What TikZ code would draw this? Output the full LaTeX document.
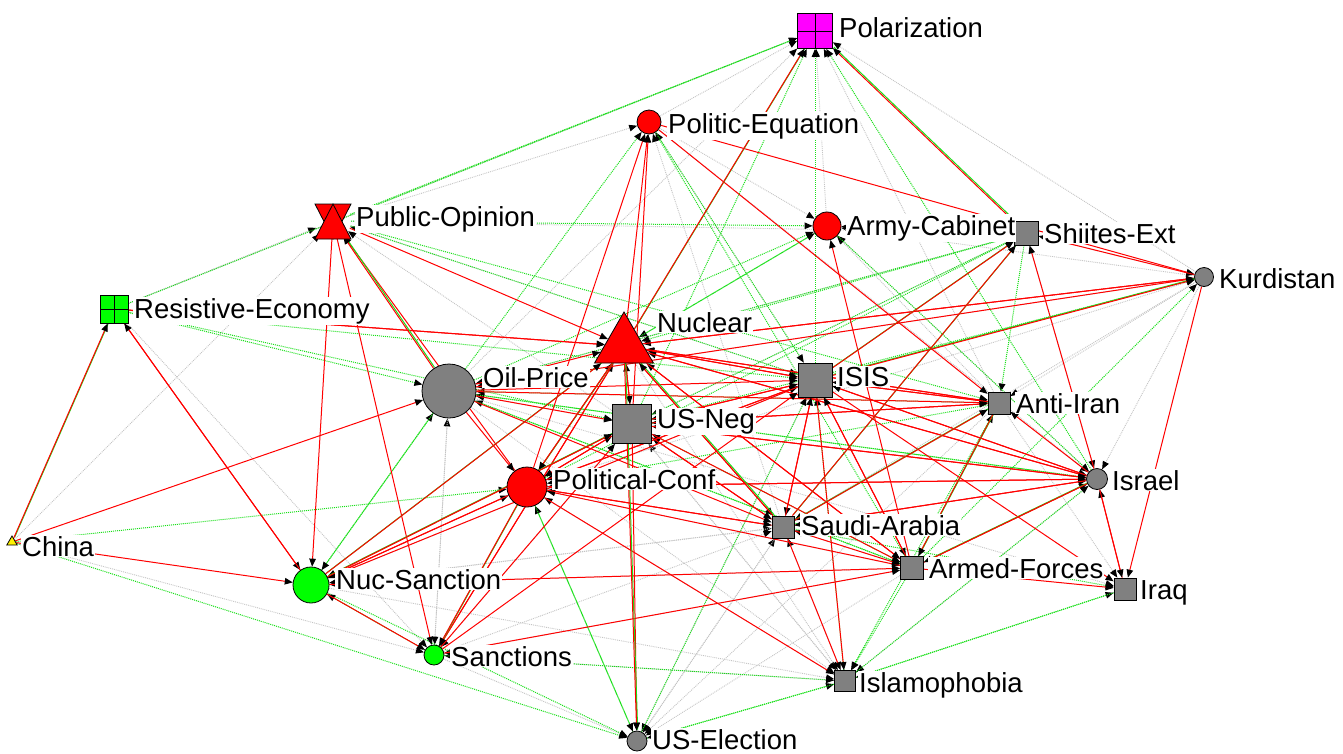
\documentclass[tikz,border=0pt]{standalone}
\usepackage{fontspec}
\setmainfont{Liberation Sans}
\usetikzlibrary{arrows.meta,shapes.geometric}
\pgfdeclarelayer{bg}
\pgfdeclarelayer{edges}
\pgfsetlayers{bg,edges,main}
\definecolor{egreen}{HTML}{19E019}
\definecolor{egray}{HTML}{C4C4C4}
\definecolor{ngray}{HTML}{808080}
\definecolor{ngreen}{HTML}{00FF00}
\definecolor{nmag}{HTML}{FF00FF}
\begin{document}
\begin{tikzpicture}[x=1pt,y=-1pt,
  tip/.style={-{Triangle[length=8pt,width=6.5pt,color=black]}},
  er/.style={tip, draw=red, line width=1pt},
  eg/.style={tip, draw=egreen, line width=1pt, densely dotted},
  ey/.style={tip, draw=egray, line width=0.9pt, densely dotted},
  erg/.style={tip, draw=red, line width=1pt,
    preaction={draw=egreen, line width=1pt, -, transform canvas={shift={(1pt,1pt)}}}},
  lab/.style={fill=white, inner sep=1pt, anchor=base west, font=\fontsize{27.5}{30}\selectfont},
  sq/.style={rectangle, draw=black, line width=0.8pt, fill=ngray, inner sep=0pt, minimum size=#1},
  ci/.style={circle, draw=black, line width=0.8pt, fill=ngray, inner sep=0pt, minimum size=#1},
  grid4/.style={rectangle, draw=black, line width=0.8pt, inner sep=0pt, minimum size=#1,
    path picture={\draw[line width=0.8pt] (path picture bounding box.north) -- (path picture bounding box.south)
      (path picture bounding box.west) -- (path picture bounding box.east);}},
  tri/.style={regular polygon, regular polygon sides=3, draw=black, line width=0.8pt, inner sep=0pt, minimum size=#1}
]
\useasboundingbox (0,0) rectangle (1343,753);
\begin{pgfonlayer}{bg}
\fill[white] (0,0) rectangle (1343,753);
\end{pgfonlayer}

% nodes
\node[grid4=35, fill=nmag] (pol) at (815,31) {};
\node[ci=24, fill=red] (peq) at (649,122) {};
\node[circle, minimum size=36pt, inner sep=0pt] (pub) at (333,221) {};
\fill[red, draw=black, line width=0.8pt] (315,204) -- (351,204) -- (333,239) -- cycle;
\fill[red, draw=black, line width=0.8pt] (315,239) -- (351,239) -- (333,204) -- cycle;
\node[grid4=28, fill=ngreen] (res) at (114,309) {};
\node[ci=54] (oil) at (449,391) {};
\node[tri=68, fill=red] (nuc) at (624,346) {};
\node[sq=39] (usn) at (632,424) {};
\node[ci=40, fill=red] (pcf) at (527,487) {};
\node[ci=28, fill=red] (arm) at (827,226) {};
\node[sq=24] (shi) at (1026,233) {};
\node[ci=19] (kur) at (1204,277) {};
\node[sq=34] (isis) at (815,380) {};
\node[sq=22] (anti) at (999,403) {};
\node[ci=21] (isr) at (1097,479) {};
\node[sq=22] (sau) at (783,527) {};
\node[sq=23] (af) at (912,568) {};
\node[sq=22] (iraq) at (1125,589) {};
\node[sq=21] (islam) at (845,681) {};
\node[ci=20] (use) at (637,741) {};
\node[ci=36, fill=ngreen] (ns) at (311,585) {};
\node[ci=20, fill=ngreen] (sanc) at (434,655) {};
\node[tri=12, fill=yellow] (chn) at (12,542) {};

\begin{pgfonlayer}{edges}
\foreach \a/\b in {res/pol,peq/pol,arm/pol,anti/pol,kur/pol,oil/pol,isis/peq,pub/peq,sau/peq,
  peq/arm,usn/pub,chn/pub,res/pub,usn/oil,sanc/oil,shi/usn,islam/usn,islam/pcf,anti/arm,shi/arm,
  kur/arm,isr/arm,kur/anti,anti/iraq,kur/isr,shi/isr,af/sau,islam/sau,use/sau,sanc/sau,ns/sau,
  pcf/af,usn/islam,oil/islam,ns/islam,isr/islam,sanc/use,sau/use,isis/use,af/use,anti/use,
  sau/ns,af/ns,res/sanc,oil/sanc,usn/sanc,chn/sanc,islam/sanc,af/sanc,shi/kur,nuc/islam,pcf/kur,
  oil/shi,pub/shi,ns/isis,oil/iraq,pub/isis,kur/oil,peq/isr,kur/sau}
  \draw[ey] (\a) -- (\b);
\foreach \a/\b in {pub/pol,res/pol,isis/pol,isr/pol,usn/pol,oil/peq,af/peq,pub/arm,isis/pub,res/oil,
  ns/oil,anti/oil,isr/oil,af/oil,shi/oil,shi/nuc,arm/nuc,af/usn,kur/usn,anti/pcf,use/pcf,chn/pcf,
  shi/anti,af/kur,af/anti,islam/isis,use/isis,oil/isr,islam/isr,anti/sau,oil/af,islam/iraq,
  sau/iraq,sanc/islam,use/islam,af/islam,anti/islam,iraq/islam,pcf/use,ns/use,chn/use,islam/use,
  oil/ns,sanc/ns,peq/isis,arm/isr,res/usn,pub/anti,oil/arm,usn/shi,pcf/shi,nuc/arm,res/isis}
  \draw[eg] (\a) -- (\b);
\foreach \a/\b in {peq/kur,peq/anti,pub/nuc,pub/ns,pub/sanc,pcf/pub,res/ns,ns/res,res/nuc,chn/oil,
  chn/ns,nuc/peq,usn/peq,pcf/peq,oil/nuc,usn/nuc,pcf/nuc,isis/nuc,anti/nuc,isr/nuc,kur/nuc,af/nuc,
  sanc/nuc,nuc/usn,oil/usn,pcf/usn,isis/usn,anti/usn,isr/usn,sau/usn,oil/pcf,usn/pcf,isis/pcf,
  isr/pcf,sau/pcf,af/pcf,ns/pcf,af/arm,kur/shi,isr/shi,nuc/kur,kur/iraq,isis/anti,usn/anti,
  nuc/anti,oil/anti,isr/anti,isis/isr,nuc/isr,usn/isr,sau/isr,af/isr,iraq/isr,pcf/isr,isis/sau,
  usn/sau,oil/sau,pcf/sau,nuc/sau,isr/sau,isis/af,nuc/af,usn/af,sau/af,sanc/af,ns/af,isr/iraq,
  af/iraq,isis/iraq,sau/islam,isis/islam,pcf/islam,usn/use,oil/isis,usn/isis,pcf/isis,anti/isis,
  isr/isis,sau/isis,af/isis,sanc/isis,nuc/isis,pcf/ns,usn/ns,isis/ns,ns/sanc,nuc/sanc,sanc/usn,
  res/nuc,oil/kur}
  \draw[er] (\a) -- (\b);
\foreach \a/\b in {nuc/pol,shi/pol,chn/res,isis/kur,sau/shi,isis/shi,sau/nuc,ns/nuc,nuc/pcf,
  sau/anti,anti/af,isr/af,nuc/use,pcf/sanc,oil/pub,ns/usn}
  \draw[erg] (\a) -- (\b);
\end{pgfonlayer}

% labels
\node[lab] at (838,37) {Polarization};
\node[lab] at (667,133) {Politic-Equation};
\node[lab] at (355,226) {Public-Opinion};
\node[lab] at (846,235) {Army-Cabinet};
\node[lab] at (1043,243) {Shiites-Ext};
\node[lab] at (1218,288) {Kurdistan};
\node[lab] at (133,318) {Resistive-Economy};
\node[lab] at (656,332) {Nuclear};
\node[lab] at (482,387) {Oil-Price};
\node[lab] at (836,386) {ISIS};
\node[lab] at (1015,413) {Anti-Iran};
\node[lab] at (656,428) {US-Neg};
\node[lab] at (1111,490) {Israel};
\node[lab] at (552,489) {Political-Conf};
\node[lab] at (800,535) {Saudi-Arabia};
\node[lab] at (21,556) {China};
\node[lab] at (928,578) {Armed-Forces};
\node[lab] at (335,589) {Nuc-Sanction};
\node[lab] at (1139,599) {Iraq};
\node[lab] at (450,666) {Sanctions};
\node[lab] at (858,692) {Islamophobia};
\node[lab] at (651,749) {US-Election};
\end{tikzpicture}
\end{document}
